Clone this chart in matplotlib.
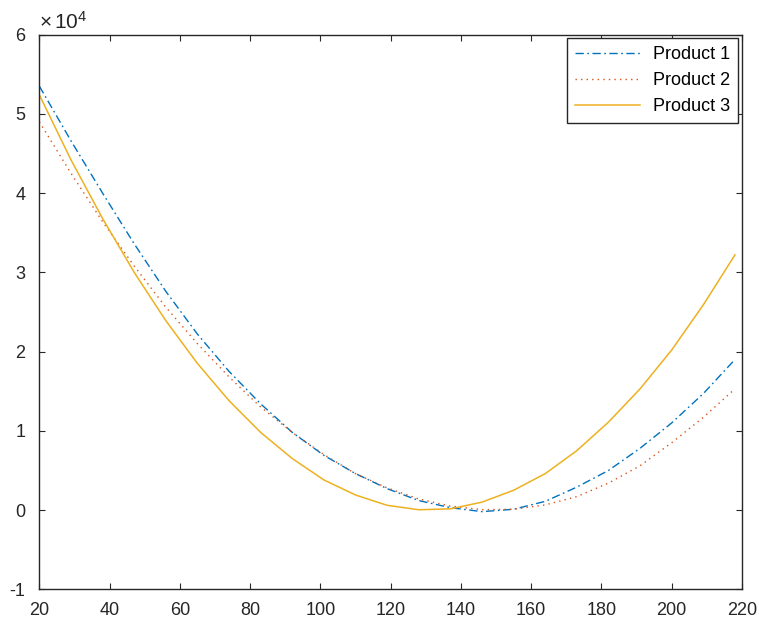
import matplotlib
matplotlib.use("Agg")
import matplotlib.pyplot as plt
from matplotlib.ticker import FuncFormatter, MultipleLocator

plt.rcParams['font.family'] = ['Liberation Sans', 'DejaVu Sans']
plt.rcParams['axes.unicode_minus'] = False
plt.rcParams['mathtext.fontset'] = 'custom'
plt.rcParams['mathtext.rm'] = 'Liberation Sans'
plt.rcParams['mathtext.it'] = 'Liberation Sans'

# x values (price) and three products' curves (units of 1e4)
x = [20, 29, 38, 47, 56, 65, 74, 83, 92, 101, 110, 119, 128, 137, 146, 155,
     164, 173, 182, 191, 200, 209, 218]
product1 = [5.35, 4.66, 4.00, 3.36, 2.76, 2.22, 1.75, 1.34, 0.98, 0.69, 0.46,
            0.27, 0.12, 0.03, -0.02, 0.01, 0.11, 0.29, 0.50, 0.78, 1.10, 1.47, 1.90]
product2 = [4.90, 4.25, 3.64, 3.08, 2.56, 2.10, 1.68, 1.30, 0.98, 0.70, 0.46,
            0.28, 0.14, 0.05, 0.005, 0.01, 0.065, 0.17, 0.34, 0.56, 0.85, 1.17, 1.53]
product3 = [5.24, 4.42, 3.68, 3.00, 2.39, 1.85, 1.38, 0.98, 0.65, 0.38, 0.19,
            0.06, 0.004, 0.015, 0.10, 0.25, 0.46, 0.75, 1.11, 1.53, 2.02, 2.59, 3.22]
labels = ["Product 1", "Product 2", "Product 3"]
scale = 1e4

fig = plt.figure(figsize=(7.59, 6.24), dpi=100)
ax = fig.add_axes([0.0518, 0.0556, 0.9258, 0.889])

ax.plot(x, [v * scale for v in product1], color='#0072BD', lw=1.0,
        dashes=(6, 2.5, 1.2, 2.5), label=labels[0])
ax.plot(x, [v * scale for v in product2], color='#D95319', lw=1.0,
        dashes=(1, 3), label=labels[1])
ax.plot(x, [v * scale for v in product3], color='#EDB120', lw=1.1,
        label=labels[2])

ax.set_xlim(20, 220)
ax.set_ylim(-1e4, 6e4)
ax.xaxis.set_major_locator(MultipleLocator(20))
ax.yaxis.set_major_locator(MultipleLocator(1e4))
ax.yaxis.set_major_formatter(FuncFormatter(lambda v, p: f"{v / scale:g}"))

axcol = '#262626'
ax.text(0.0, 1.004, "\u00d7" + r"$\,10^{4}$", transform=ax.transAxes,
        ha='left', va='bottom', fontsize=15, color=axcol)

for s in ax.spines.values():
    s.set_color(axcol)
    s.set_linewidth(1.0)
ax.tick_params(direction='in', length=4, width=0.8, colors=axcol,
               top=True, right=True, labelsize=13)
ax.tick_params(axis='x', pad=9)
ax.tick_params(axis='y', pad=10)

leg = ax.legend(loc='upper right', fontsize=13, frameon=True, fancybox=False,
                edgecolor='#262626', framealpha=1, handlelength=3.6,
                handletextpad=0.7, labelspacing=0.5, borderpad=0.45,
                borderaxespad=0.2)
leg.get_frame().set_linewidth(1.0)

fig.savefig('out.png', dpi=100)
